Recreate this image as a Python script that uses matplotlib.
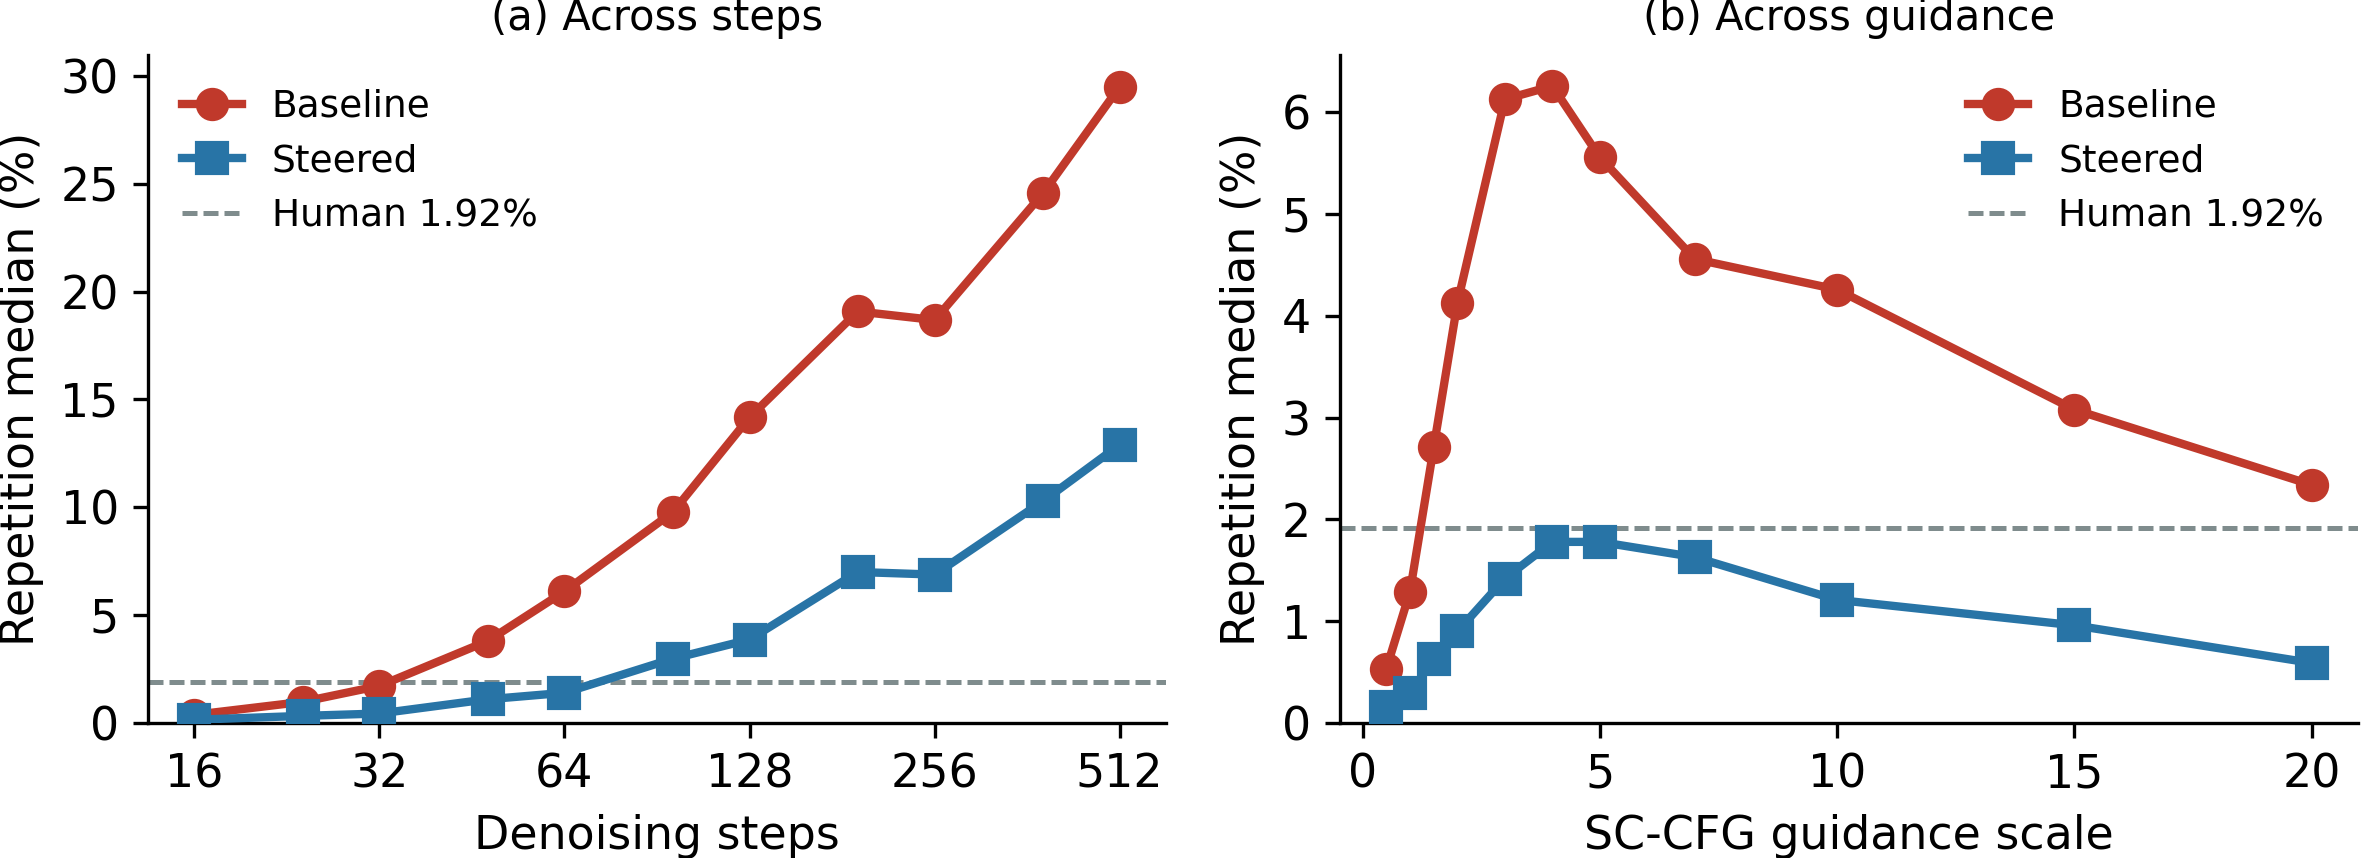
import matplotlib
matplotlib.use("Agg")
import matplotlib.pyplot as plt
from matplotlib.ticker import FixedLocator, FixedFormatter, NullLocator

# ---- data ----
steps = [16, 24, 32, 48, 64, 96, 128, 192, 256, 384, 512]
baseline_steps = [0.38, 0.98, 1.72, 3.8, 6.1, 9.77, 14.17, 19.08, 18.68, 24.55, 29.5]
steered_steps = [0.15, 0.33, 0.44, 1.1, 1.4, 2.98, 3.87, 7.0, 6.88, 10.28, 12.9]

guidance = [0.5, 1, 1.5, 2, 3, 4, 5, 7, 10, 15, 20]
baseline_guid = [0.53, 1.29, 2.71, 4.13, 6.13, 6.26, 5.56, 4.56, 4.26, 3.08, 2.34]
steered_guid = [0.16, 0.29, 0.63, 0.90, 1.42, 1.78, 1.78, 1.63, 1.21, 0.96, 0.59]

human = 1.92
step_ticks = [16, 32, 64, 128, 256, 512]
step_labels = ["16", "32", "64", "128", "256", "512"]
left_yticks = [0, 5, 10, 15, 20, 25, 30]
right_xticks = [0, 5, 10, 15, 20]
right_yticks = [0, 1, 2, 3, 4, 5, 6]

RED = "#c0392b"
BLUE = "#2874a6"
GRAY = "#7f8c8d"

plt.rcParams["font.family"] = ["DejaVu Sans"]

fig = plt.figure(figsize=(2361 / 300, 858 / 300), dpi=300)
W, H = 2361, 858
ax1 = fig.add_axes([148 / W, 1 - 723 / H, (1166 - 148) / W, (723 - 55) / H])
ax2 = fig.add_axes([1340 / W, 1 - 723 / H, (2358 - 1340) / W, (723 - 55) / H])

def style(ax):
    ax.spines["top"].set_visible(False)
    ax.spines["right"].set_visible(False)
    ax.tick_params(labelsize=11, length=3.5, width=0.8)

# left panel
ax1.axhline(human, color=GRAY, lw=1.2, ls=(0, (3, 1.2)), label=f"Human {human}%", zorder=1)
ax1.plot(steps, baseline_steps, color=RED, marker="o", lw=2, ms=7, label="Baseline", zorder=2)
ax1.plot(steps, steered_steps, color=BLUE, marker="s", lw=2, ms=7, label="Steered", zorder=3)
ax1.set_xscale("log", base=2)
ax1.xaxis.set_major_locator(FixedLocator(step_ticks))
ax1.xaxis.set_major_formatter(FixedFormatter(step_labels))
ax1.xaxis.set_minor_locator(NullLocator())
ax1.set_yticks(left_yticks)
ax1.set_ylim(bottom=0)
ax1.set_xlabel("Denoising steps", fontsize=11)
ax1.set_ylabel("Repetition median (%)", fontsize=11)
ax1.set_title("(a) Across steps", fontsize=10)
style(ax1)
h, l = ax1.get_legend_handles_labels()
order = [1, 2, 0]
ax1.legend([h[i] for i in order], [l[i] for i in order], loc="upper left",
           frameon=False, fontsize=9, handlelength=1.6, labelspacing=0.5)

# right panel
ax2.axhline(human, color=GRAY, lw=1.2, ls=(0, (3, 1.2)), label=f"Human {human}%", zorder=1)
ax2.plot(guidance, baseline_guid, color=RED, marker="o", lw=2, ms=7, label="Baseline", zorder=2)
ax2.plot(guidance, steered_guid, color=BLUE, marker="s", lw=2, ms=7, label="Steered", zorder=3)
ax2.set_xticks(right_xticks)
ax2.set_yticks(right_yticks)
ax2.set_ylim(bottom=0)
ax2.set_xlabel("SC-CFG guidance scale", fontsize=11)
ax2.set_ylabel("Repetition median (%)", fontsize=11)
ax2.set_title("(b) Across guidance", fontsize=10)
style(ax2)
h, l = ax2.get_legend_handles_labels()
ax2.legend([h[i] for i in order], [l[i] for i in order], loc="upper right",
           frameon=False, fontsize=9, handlelength=1.6, labelspacing=0.5)

fig.savefig("out.png", dpi=300)
